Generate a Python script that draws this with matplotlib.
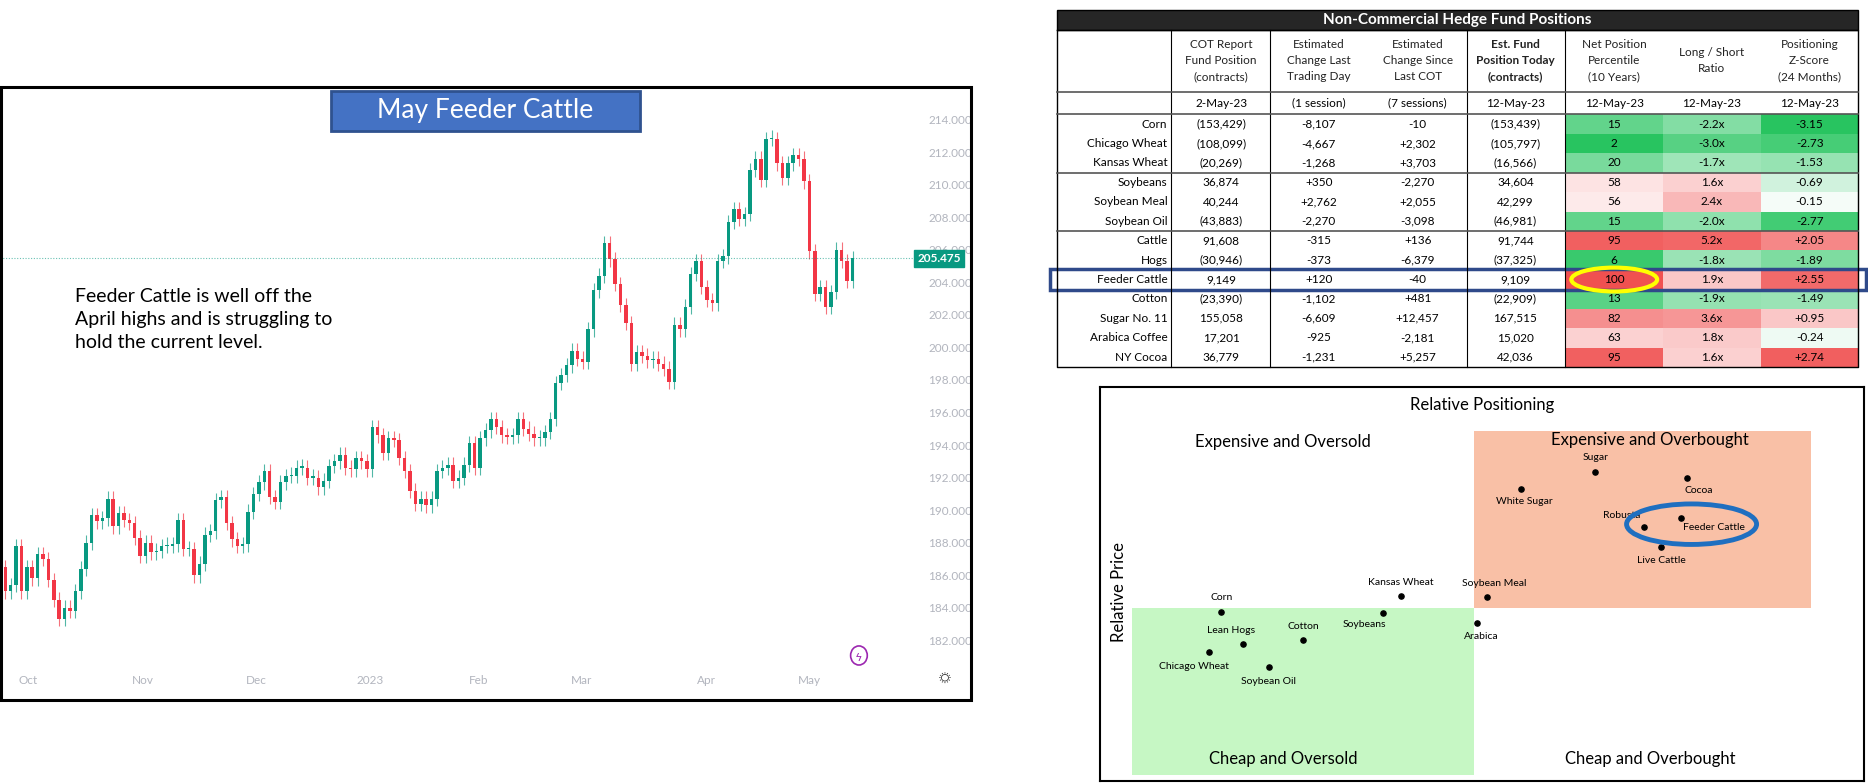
import matplotlib
matplotlib.use("Agg")
import matplotlib.pyplot as plt
from matplotlib.patches import Rectangle, Ellipse
from matplotlib.colors import LinearSegmentedColormap, TwoSlopeNorm

plt.rcParams["font.family"] = "Lato"

# ---- candlestick data (May Feeder Cattle, daily closes) ----
closes = [
    185.0, 185.4, 187.8, 185.0, 186.5, 185.8, 187.3, 187.0, 185.7, 184.5,
    183.3, 184.0, 183.8, 185.0, 186.4, 188.0, 189.7, 189.3, 189.5, 190.7,
    189.0, 189.8, 189.4, 189.2, 188.3, 187.2, 188.0, 187.4, 187.5, 187.8,
    187.8, 187.9, 189.4, 187.6, 187.6, 186.0, 186.7, 188.5, 188.7, 190.6,
    190.8, 189.2, 188.2, 187.8, 187.9, 189.9, 191.0, 191.7, 192.4, 190.8,
    190.5, 191.7, 192.1, 192.1, 192.6, 192.6, 192.0, 192.0, 191.4, 191.8,
    192.7, 193.0, 193.4, 192.6, 192.5, 193.2, 193.0, 192.5, 195.1, 194.6,
    193.5, 194.4, 194.3, 193.2, 192.4, 191.2, 190.4, 190.7, 190.3, 190.7,
    192.4, 192.6, 192.8, 191.8, 192.0, 192.8, 194.1, 192.6, 194.4, 194.9,
    195.6, 195.1, 194.6, 194.5, 194.6, 195.6, 195.0, 194.7, 194.4, 194.4,
    194.8, 195.6, 197.8, 198.3, 198.9, 199.8, 199.3, 199.1, 201.1, 203.5,
    204.4, 206.4, 205.4, 203.9, 202.6, 201.5, 199.0, 199.7, 199.5, 199.2,
    199.3, 199.0, 198.7, 197.9, 201.4, 201.1, 202.5, 204.5, 205.3, 203.7,
    202.9, 202.7, 205.3, 205.6, 207.7, 208.5, 207.9, 208.2, 210.9, 211.6,
    210.3, 212.8, 212.8, 211.3, 210.4, 211.3, 211.8, 211.6, 210.2, 205.9,
    203.3, 203.7, 202.5, 203.4, 206.0, 205.3, 204.1, 205.475,
]
first_open = 186.5
last_price = 205.475
month_labels = ["Oct", "Nov", "Dec", "2023", "Feb", "Mar", "Apr", "May"]
month_pos = [4.3, 25.5, 46.5, 67.7, 87.8, 106.8, 130, 149]
price_ticks = list(range(182, 215, 2))

# ---- table data ----
commodities = ["Corn", "Chicago Wheat", "Kansas Wheat", "Soybeans", "Soybean Meal",
               "Soybean Oil", "Cattle", "Hogs", "Feeder Cattle", "Cotton",
               "Sugar No. 11", "Arabica Coffee", "NY Cocoa"]
cot_position = ["(153,429)", "(108,099)", "(20,269)", "36,874", "40,244", "(43,883)",
                "91,608", "(30,946)", "9,149", "(23,390)", "155,058", "17,201", "36,779"]
chg_last_day = ["-8,107", "-4,667", "-1,268", "+350", "+2,762", "-2,270", "-315",
                "-373", "+120", "-1,102", "-6,609", "-925", "-1,231"]
chg_since_cot = ["-10", "+2,302", "+3,703", "-2,270", "+2,055", "-3,098", "+136",
                 "-6,379", "-40", "+481", "+12,457", "-2,181", "+5,257"]
est_today = ["(153,439)", "(105,797)", "(16,566)", "34,604", "42,299", "(46,981)",
             "91,744", "(37,325)", "9,109", "(22,909)", "167,515", "15,020", "42,036"]
percentile = [15, 2, 20, 58, 56, 15, 95, 6, 100, 13, 82, 63, 95]
ls_ratio = [-2.2, -3.0, -1.7, 1.6, 2.4, -2.0, 5.2, -1.8, 1.9, -1.9, 3.6, 1.8, 1.6]
z_score = [-3.15, -2.73, -1.53, -0.69, -0.15, -2.77, 2.05, -1.89, 2.55, -1.49, 0.95, -0.24, 2.74]
headers = ["COT Report\nFund Position\n(contracts)", "Estimated\nChange Last\nTrading Day",
           "Estimated\nChange Since\nLast COT", "Est. Fund\nPosition Today\n(contracts)",
           "Net Position\nPercentile\n(10 Years)", "Long / Short\nRatio",
           "Positioning\nZ-Score\n(24 Months)"]
subheaders = ["2-May-23", "(1 session)", "(7 sessions)", "12-May-23", "12-May-23",
              "12-May-23", "12-May-23"]

# ---- relative positioning scatter ----
sc_names = ["Corn", "Lean Hogs", "Chicago Wheat", "Cotton", "Soybean Oil", "Soybeans",
            "Kansas Wheat", "Soybean Meal", "Arabica", "White Sugar", "Sugar", "Cocoa",
            "Robusta", "Feeder Cattle", "Live Cattle"]
sc_pos = [15.9, 18.7, 14.3, 26.6, 22.1, 37.1, 39.4, 50.6, 49.4, 55.1, 64.8, 76.8, 71.2, 76.0, 73.4]
sc_price = [43.0, 34.8, 32.7, 35.8, 28.8, 42.7, 47.0, 46.7, 40.0, 74.2, 78.5, 77.0, 64.5, 66.7, 59.4]
sc_label_off = [(0, 3.5), (-1.5, 3.3), (-2, -3.6), (0, 3.3), (0, -3.6), (-2.5, -3.0),
                (0, 3.5), (1, 3.3), (0.5, -3.4), (0.5, -3.2), (0, 3.6), (1.5, -3.3),
                (-3, 3.0), (4.3, -2.3), (0, -3.5)]

W, H = 1568.0, 657.0
fig = plt.figure(figsize=(18.68, 7.83), dpi=100)


def fr(x0, y0, x1, y1):
    return [x0 / W, 1 - y1 / H, (x1 - x0) / W, (y1 - y0) / H]


# ---------------- candlestick chart ----------------
green, red = "#089981", "#f23645"
ax = fig.add_axes(fr(0, 73, 770, 555))
prev = first_open
for i, c in enumerate(closes):
    o = prev
    col = green if c >= o else red
    lo_b, hi_b = min(o, c), max(o, c)
    if hi_b - lo_b < 0.08:
        hi_b = lo_b + 0.08
    ax.vlines(i, lo_b - 0.45, hi_b + 0.45, color=col, lw=0.8, alpha=0.7)
    ax.add_patch(Rectangle((i - 0.32, lo_b), 0.64, hi_b - lo_b, color=col, lw=0))
    prev = c
ax.axhline(last_price, color=green, lw=0.8, ls=(0, (1, 1.5)), alpha=0.6)
ax.set_xlim(-0.97, 169)
ax.set_ylim(180.7, 216)
for s in ax.spines.values():
    s.set_visible(False)
ax.yaxis.tick_right()
ax.set_yticks(price_ticks)
ax.set_yticklabels([f"{p:.3f}" for p in price_ticks], color="#b2b5be", fontsize=8.5)
ax.tick_params(axis="y", length=0, pad=8)
ax.set_xticks(month_pos)
ax.set_xticklabels(month_labels, color="#b2b5be", fontsize=8.5)
ax.tick_params(axis="x", length=0, pad=10)
ax.text(1.0, last_price, f"{last_price:.3f}", transform=ax.get_yaxis_transform(),
        ha="left", va="center", color="white", fontsize=8.5, fontweight="bold",
        bbox=dict(boxstyle="square,pad=0.25", fc=green, ec=green))

# overlay for table / boxes / text, in displayed-pixel coordinates
ov = fig.add_axes([0, 0, 1, 1], zorder=5)
ov.set_xlim(0, W)
ov.set_ylim(H, 0)
ov.axis("off")
ov.patch.set_alpha(0)

ov.add_patch(Rectangle((1, 73), 814, 514, fill=False, ec="black", lw=2.2))
ov.add_patch(Rectangle((278, 76), 259, 34, fc="#4472c4", ec="#2f528f", lw=2))
ov.text(407, 93, "May Feeder Cattle", color="white", fontsize=19, ha="center", va="center")
ov.text(63, 268, "Feeder Cattle is well off the\nApril highs and is struggling to\nhold the current level.",
        fontsize=14, va="center", linespacing=1.45)
ov.add_patch(Ellipse((721, 550), 14, 16, fill=False, ec="#9c27b0", lw=1.2))
ov.text(721, 550, "ϟ", color="#9c27b0", fontsize=8, ha="center", va="center")
ov.text(793, 570, "☼", color="#333333", fontsize=11, ha="center", va="center")

# ---------------- table ----------------
tx0, tx1 = 887, 1560
ov.add_patch(Rectangle((tx0, 8), tx1 - tx0, 17, fc="#262626", ec="black"))
ov.text((tx0 + tx1) / 2, 16.5, "Non-Commercial Hedge Fund Positions", color="white",
        fontsize=11, fontweight="bold", ha="center", va="center")
row_h = 16.3
row0 = 96
centers = [1025, 1107, 1190, 1272, 1355, 1437, 1519]
cmap = LinearSegmentedColormap.from_list("gr", ["#1fc25a", "#ffffff", "#f05050"])
cell_cols = [
    ([cmap(TwoSlopeNorm(50, 0, 100)(v)) for v in percentile], 1314, 1396),
    ([cmap(TwoSlopeNorm(0, -4, 6)(v)) for v in ls_ratio], 1396, 1478),
    ([cmap(TwoSlopeNorm(0, -3.3, 3.0)(v)) for v in z_score], 1478, 1560),
]
for colors, xa, xb in cell_cols:
    for r, cc in enumerate(colors):
        ov.add_patch(Rectangle((xa, row0 + r * row_h), xb - xa, row_h, fc=cc, ec="none"))
for j, h in enumerate(headers):
    ov.text(centers[j], 51, h, ha="center", va="center", fontsize=8.5, linespacing=1.55,
            color="#222222", fontweight="bold" if j == 3 else "normal")
    ov.text(centers[j], 86.5, subheaders[j], ha="center", va="center", fontsize=8.5)
for r in range(len(commodities)):
    y = row0 + (r + 0.5) * row_h
    ov.text(980, y, commodities[r], ha="right", va="center", fontsize=8.5)
    vals = [cot_position[r], chg_last_day[r], chg_since_cot[r], est_today[r],
            str(percentile[r]), f"{ls_ratio[r]:.1f}x", f"{z_score[r]:+.2f}"]
    for j, v in enumerate(vals):
        ov.text(centers[j], y, v, ha="center", va="center", fontsize=8.5)
tb = row0 + 13 * row_h
ov.plot([tx0, tx1, tx1, tx0, tx0], [25, 25, tb, tb, 25], color="black", lw=1)
for xv in [983, 1066, 1231, 1314]:
    ov.plot([xv, xv], [25, tb], color="black", lw=0.8)
for yv in [77, 96, row0 + 3 * row_h, row0 + 6 * row_h]:
    ov.plot([tx0, tx1], [yv, yv], color="#555555", lw=1.2)
ov.add_patch(Rectangle((881, row0 + 8 * row_h - 0.5), 685, row_h + 1, fill=False, ec="#2f4a8a", lw=2.5))
ov.add_patch(Ellipse((1355, row0 + 8.5 * row_h), 72, 20, fill=False, ec="#ffff00", lw=3))

# ---------------- relative positioning scatter ----------------
sx = fig.add_axes(fr(923, 325, 1565, 655))
sx.set_xlim(0, 100)
sx.set_ylim(0, 100)
sx.set_xticks([])
sx.set_yticks([])
for s in sx.spines.values():
    s.set_linewidth(1.5)
sx.add_patch(Rectangle((4.2, 1.5), 44.7, 42.4, fc="#c6f7c4", ec="none"))
sx.add_patch(Rectangle((48.9, 43.9), 44.1, 44.9, fc="#f9c0a6", ec="none"))
sx.scatter(sc_pos, sc_price, s=14, color="black", zorder=3)
for n, xv, yv, (dx, dy) in zip(sc_names, sc_pos, sc_price, sc_label_off):
    sx.text(xv + dx, yv + dy, n, fontsize=7.5, ha="center", va="center", zorder=4)
sx.text(50, 95.5, "Relative Positioning", fontsize=12, ha="center", va="center")
sx.text(2.6, 48, "Relative Price", fontsize=12, rotation=90, ha="center", va="center")
sx.text(24, 86, "Expensive and Oversold", fontsize=12, ha="center", va="center")
sx.text(72, 86.5, "Expensive and Overbought", fontsize=12, ha="center", va="center")
sx.text(24, 5.5, "Cheap and Oversold", fontsize=12, ha="center", va="center")
sx.text(72, 5.5, "Cheap and Overbought", fontsize=12, ha="center", va="center")
sx.add_patch(Ellipse((77.4, 65.2), 17, 10.3, fill=False, ec="#1f6fc0", lw=3.5, zorder=5))

fig.savefig("out.png", dpi=100)
